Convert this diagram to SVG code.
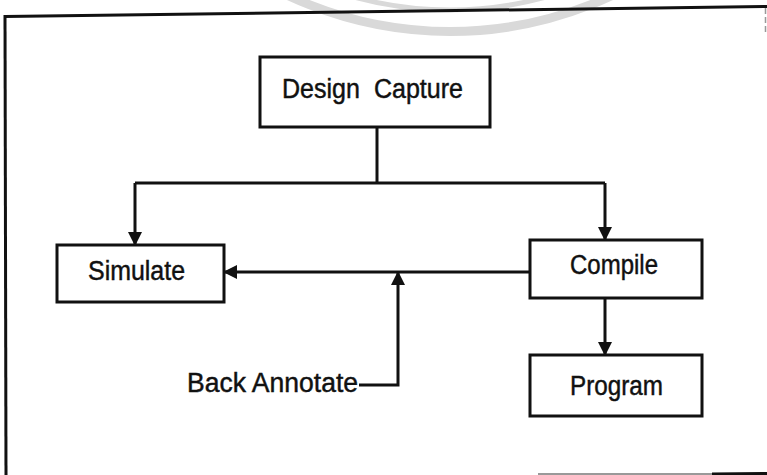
<svg xmlns="http://www.w3.org/2000/svg" width="767" height="475" viewBox="0 0 767 475">
  <style>
    .box { fill: #fff; stroke: #111; stroke-width: 3; }
    .lbl { font-family: "Liberation Sans", Arial, sans-serif; font-size: 27px; fill: #111; stroke: #111; stroke-width: 0.45; white-space: pre; }
    .wire { fill: none; stroke: #111; stroke-width: 3; }
    .frame { fill: none; stroke: #111; stroke-width: 3; }
    .ring { fill: none; stroke: #d9d9d9; }
  </style>
  <defs>
    <marker id="head" markerUnits="userSpaceOnUse" markerWidth="14" markerHeight="14" viewBox="0 0 14 14" refX="13" refY="7" orient="auto">
      <path d="M0,0 L14,7 L0,14 Z" fill="#111"/>
    </marker>
  </defs>

  <rect width="767" height="475" fill="#fff"/>

  <!-- faint ring stamp behind the top edge -->
  <g id="stamp">
    <circle class="ring" cx="450" cy="-351" r="382.5" stroke-width="9"/>
    <circle class="ring" cx="450" cy="-351" r="361" stroke-width="5" stroke="#e4e4e4"/>
  </g>

  <!-- outer frame -->
  <g id="frame">
    <path class="frame" d="M5,16.5 L767,6.5"/>
    <path class="frame" d="M5,15 L6,475"/>
    <path d="M765.5,8 L765.5,32" fill="none" stroke="#999" stroke-width="1.5" stroke-dasharray="6 3"/>
    <path d="M538,474 L712,474" fill="none" stroke="#999" stroke-width="2"/>
    <path d="M712,474 L767,473.5" fill="none" stroke="#111" stroke-width="3"/>
  </g>

  <!-- connectors -->
  <g id="connectors">
    <path class="wire" d="M377,127 L377,183"/>
    <path class="wire" d="M135,183 L605,183"/>
    <path class="wire" d="M135,183 L135,245" marker-end="url(#head)"/>
    <path class="wire" d="M605,183 L605,240" marker-end="url(#head)"/>
    <path class="wire" d="M530,272 L224,272" marker-end="url(#head)"/>
    <path class="wire" d="M605,298 L605,355" marker-end="url(#head)"/>
    <path class="wire" d="M359,385 L398,385 L398,272" marker-end="url(#head)"/>
  </g>

  <g id="design-capture">
    <rect class="box" x="260" y="57" width="230" height="70"/>
    <text class="lbl" x="282" y="98" textLength="181" lengthAdjust="spacingAndGlyphs">Design  Capture</text>
  </g>

  <g id="simulate">
    <rect class="box" x="57" y="245" width="167" height="57"/>
    <text class="lbl" x="88" y="280" textLength="97" lengthAdjust="spacingAndGlyphs">Simulate</text>
  </g>

  <g id="compile">
    <rect class="box" x="530" y="240" width="172" height="58"/>
    <text class="lbl" x="570" y="274" textLength="88" lengthAdjust="spacingAndGlyphs">Compile</text>
  </g>

  <g id="program">
    <rect class="box" x="530" y="355" width="172" height="61"/>
    <text class="lbl" x="570" y="395" textLength="93" lengthAdjust="spacingAndGlyphs">Program</text>
  </g>

  <g id="back-annotate">
    <text class="lbl" x="187" y="392" textLength="171" lengthAdjust="spacingAndGlyphs">Back Annotate</text>
  </g>
</svg>
